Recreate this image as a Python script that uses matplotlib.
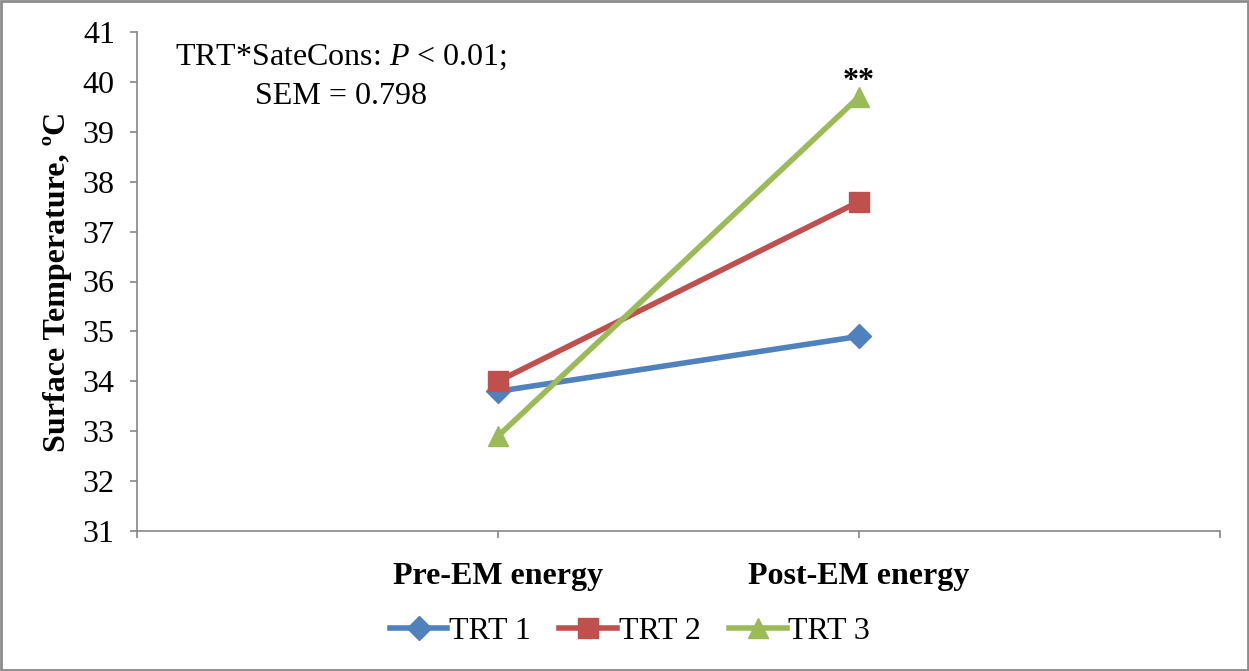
import matplotlib.pyplot as plt
from matplotlib.patches import Rectangle

plt.rcParams['font.family'] = ['Liberation Serif', 'DejaVu Serif']
plt.rcParams['mathtext.fontset'] = 'custom'
plt.rcParams['mathtext.rm'] = 'Liberation Serif'
plt.rcParams['mathtext.it'] = 'Liberation Serif:italic'

# data
categories = ["Pre-EM energy", "Post-EM energy"]
trt1 = [33.8, 34.9]
trt2 = [34.0, 37.6]
trt3 = [32.9, 39.7]
series_names = ["TRT 1", "TRT 2", "TRT 3"]

FS = 23
W, H = 1249, 671
fig = plt.figure(figsize=(W / 100, H / 100), dpi=100)
ax = fig.add_axes([137 / W, 1 - 531 / H, (1220 - 137) / W, (531 - 32) / H])

x = list(range(len(categories)))
ax.plot(x, trt1, color="#4F81BD", lw=4, marker="D", ms=12, label=series_names[0])
ax.plot(x, trt2, color="#C0504D", lw=4, marker="s", ms=14, label=series_names[1])
ax.plot(x, trt3, color="#9BBB59", lw=4, marker="^", ms=15, label=series_names[2])

ax.set_xlim(-1, 2)
ax.set_ylim(31, 41)
ax.set_yticks(range(31, 42))
ax.set_xticks([-1, 0, 1, 2])
ax.set_xticklabels([""] + categories + [""], fontsize=FS, fontweight="bold")
ax.tick_params(axis="x", length=5, width=1.2, color="#868686", pad=17)
ax.tick_params(axis="y", length=5, width=1.2, color="#868686", labelsize=FS, pad=11)
for s in ["top", "right"]:
    ax.spines[s].set_visible(False)
for s in ["left", "bottom"]:
    ax.spines[s].set_color("#868686")
    ax.spines[s].set_linewidth(1.2)

ax.set_ylabel("Surface Temperature, ºC", fontsize=FS, fontweight="bold", labelpad=8)

ax.text(341 / W, 1 - 57 / H, "TRT*SateCons: $\\mathit{P}$ < 0.01;", transform=fig.transFigure,
        ha="center", va="center", fontsize=FS)
ax.text(341 / W, 1 - 96 / H, "SEM = 0.798", transform=fig.transFigure,
        ha="center", va="center", fontsize=FS)
ax.text(1, 40.0, "**", ha="center", va="center", fontsize=FS, fontweight="bold")

fig.legend(loc="center", bbox_to_anchor=(630 / W, 1 - 631 / H), ncol=3, frameon=False,
           fontsize=FS, handlelength=1.8, handletextpad=0.05, columnspacing=0.9)

fig.patches.append(Rectangle((0.001, 0.001), 0.998, 0.998, transform=fig.transFigure,
                             fill=False, edgecolor="#8c8c8c", lw=2))

fig.savefig("out.png", dpi=100)
